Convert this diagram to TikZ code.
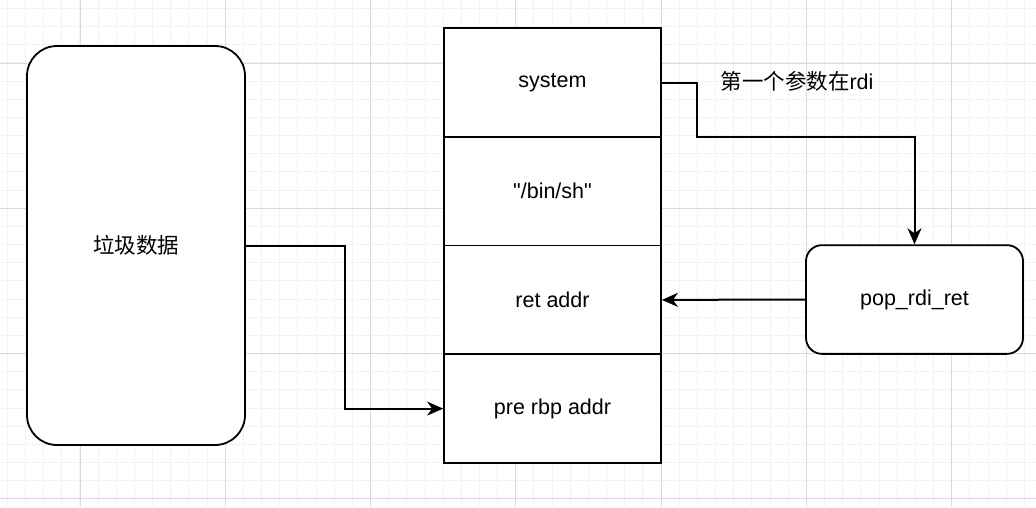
\documentclass[tikz,border=0pt]{standalone}
\usepackage{fontspec}
\setmainfont{Liberation Sans}
\newfontfamily\cjk{Noto Sans CJK SC}
\usepackage{tikz}
\usetikzlibrary{arrows.meta,positioning,calc}
\definecolor{gridminor}{RGB}{242,242,242}
\definecolor{gridmajor}{RGB}{218,218,218}

\tikzset{
  cell/.style={draw, line width=1.8pt, minimum width=217pt, minimum height=108.7pt,
    inner sep=0pt, outer sep=0pt, fill=white, font=\fontsize{21.5}{26}\selectfont},
  roundbox/.style={cell, outer sep=0.9pt, rounded corners=16pt},
  link/.style={line width=2pt, -{Stealth[length=16pt,width=14pt,inset=5pt]}}
}

\begin{document}
\begin{tikzpicture}[x=1pt,y=-1pt]

\useasboundingbox (0,0) rectangle (1036,507);

% ================= GRID =================
\foreach \i in {0,...,57} {
  \draw[gridminor, line width=1pt] (7.35+18.16*\i,0) -- (7.35+18.16*\i,507);
}
\foreach \i in {0,...,28} {
  \draw[gridminor, line width=1pt] (0,8.5+18.16*\i) -- (1036,8.5+18.16*\i);
}
\foreach \i in {0,...,7} {
  \draw[gridmajor, line width=1pt] (80+145.3*\i,0) -- (80+145.3*\i,507);
}
\foreach \i in {0,...,3} {
  \draw[gridmajor, line width=1pt] (0,63+145.3*\i) -- (1036,63+145.3*\i);
}

% ================= LEFT: PADDING =================
\node[roundbox, minimum width=218pt, minimum height=399pt,
  rounded corners=30pt] (junk) at (136,245.5) {\cjk 垃圾数据};

% ================= STACK =================
\node[cell] (sys) at (552.5,82.5) {system};
\node[cell, below=0pt of sys] (binsh) {\textquotedbl/bin/sh\textquotedbl};
\node[cell, below=0pt of binsh] (ret) {ret addr};
\node[cell, below=0pt of ret] (pre) {pre rbp addr};

% ================= GADGET =================
\node[roundbox] (pop) at (914.5,299.5) {pop\_rdi\_ret};

\node[font=\fontsize{21.5}{26}\selectfont, inner sep=0pt] (note) at (797,81)
  {{\cjk 第一个参数在}rdi};

% ================= CONNECTORS =================
\coordinate (bend) at (697,137);
\draw[link] (junk.east) -| ($(junk.east)!.5!(pre.west)$) |- ([xshift=-0.9pt]pre.west);
\draw[link] ([xshift=0.9pt]sys.east) -| (bend) -| (pop.north);
\draw[link] (pop.west) -- ([xshift=0.9pt]ret.east);

\end{tikzpicture}
\end{document}
